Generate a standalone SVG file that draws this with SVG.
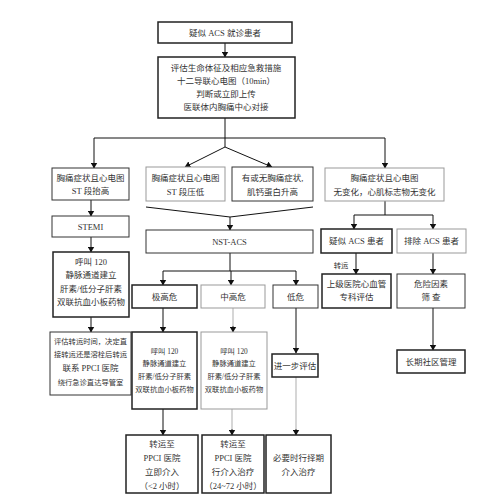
<svg xmlns="http://www.w3.org/2000/svg" width="500" height="504" viewBox="0 0 500 504">
<defs>
<marker id="ah" markerWidth="6" markerHeight="7" refX="5.5" refY="3.5" orient="auto" markerUnits="userSpaceOnUse">
<path d="M0,0 L6,3.5 L0,7 Z" fill="#111"/>
</marker>
</defs>
<style>
.b{fill:#fff;stroke:#333;stroke-width:1}
.bk{fill:#fff;stroke:#222;stroke-width:1.5}
.bg{fill:#fff;stroke:#999;stroke-width:1}
.t{font-family:"Liberation Serif","Noto Sans CJK SC",serif;font-size:8.5px;fill:#333;text-anchor:middle}
.s{font-size:7.3px}
.l{fill:none;stroke:#111;stroke-width:1}
.lg{fill:none;stroke:#bbb;stroke-width:1.2}
.a{marker-end:url(#ah)}
</style>
<rect width="500" height="504" fill="#fff"/>
<g id="connectors">
<path class="l a" d="M225,43 V57"/>
<path class="l" d="M225,118 V147"/>
<path class="l" d="M94,138 H385"/>
<path class="l a" d="M94,138 V168"/>
<path class="l a" d="M385,138 V168"/>
<path class="l a" d="M225,147 L185,167"/>
<path class="l a" d="M225,147 L272,167"/>
<path class="l a" d="M91,200 V216"/>
<path class="l a" d="M91,237 V252"/>
<path class="l a" d="M91,317 V332"/>
<path class="l" d="M146,207 L230,217 L313,207"/>
<path class="l a" d="M230,217 V230"/>
<path class="l" d="M230,253 V271"/>
<path class="l" d="M163,271 H296"/>
<path class="l a" d="M163,271 V285"/>
<path class="l a" d="M231,271 V285"/>
<path class="l a" d="M296,271 V285"/>
<path class="l a" d="M163,308 V332"/>
<path class="lg" d="M233,308 V326"/>
<path class="l a" d="M233,326 V332"/>
<path class="l a" d="M296,308 V353"/>
<path class="l a" d="M163,409 V435"/>
<path class="lg" d="M232,409 V429"/>
<path class="l a" d="M232,429 V435"/>
<path class="lg" d="M296,377 V429"/>
<path class="l a" d="M296,429 V435"/>
<path class="l" d="M385,201 V215"/>
<path class="l" d="M354,215 H433"/>
<path class="l a" d="M354,215 V229"/>
<path class="l a" d="M433,215 V229"/>
<path class="l a" d="M356,253 V274"/>
<path class="l a" d="M433,253 V274"/>
<path class="l a" d="M433,308 V350"/>
</g>
<g id="n1"><rect class="bk" x="158" y="22" width="134" height="21"/><text class="t" x="225" y="36">疑似 ACS 就诊患者</text></g>
<g id="n2"><rect class="bk" x="158" y="57" width="137" height="61"/>
<text class="t" x="226" y="71">评估生命体征及相应急救措施</text>
<text class="t" x="226" y="84">十二导联心电图（10min）</text>
<text class="t" x="226" y="97">判断或立即上传</text>
<text class="t" x="226" y="110">医联体内胸痛中心对接</text></g>
<g id="n3"><rect class="b" x="52" y="168" width="77" height="32"/>
<text class="t" x="90.5" y="181">胸痛症状且心电图</text><text class="t" x="90.5" y="194">ST 段抬高</text></g>
<g id="n4"><rect class="bg" x="146" y="167" width="79" height="34"/>
<text class="t" x="185.5" y="181">胸痛症状且心电图</text><text class="t" x="185.5" y="195">ST 段压低</text></g>
<g id="n5"><rect class="b" x="232" y="167" width="81" height="34"/>
<text class="t" x="272.5" y="181">有或无胸痛症状,</text><text class="t" x="272.5" y="195">肌钙蛋白升高</text></g>
<g id="n6"><rect class="bg" x="325" y="168" width="119" height="33"/>
<text class="t" x="384.5" y="181">胸痛症状且心电图</text><text class="t" x="384.5" y="195">无变化，心肌标志物无变化</text></g>
<g id="n7"><rect class="b" x="52" y="216" width="77" height="21"/><text class="t" x="90.5" y="230">STEMI</text></g>
<g id="n8"><rect class="bk" x="53" y="252" width="76" height="65"/>
<text class="t" x="91" y="265">呼叫 120</text>
<text class="t" x="91" y="278">静脉通道建立</text>
<text class="t" x="91" y="292">肝素/低分子肝素</text>
<text class="t" x="91" y="305">双联抗血小板药物</text></g>
<g id="n9"><rect class="b" x="146" y="230" width="167" height="23"/><text class="t" x="229.5" y="245">NST-ACS</text></g>
<g id="n10"><rect class="bk" x="132" y="285" width="65" height="23"/><text class="t" x="164.5" y="300">极高危</text></g>
<g id="n11"><rect class="bg" x="201" y="285" width="64" height="23"/><text class="t" x="233" y="300">中高危</text></g>
<g id="n12"><rect class="b" x="273" y="285" width="45" height="23"/><text class="t" x="295.5" y="300">低危</text></g>
<g id="n13"><rect class="b" x="50" y="332" width="81" height="63"/>
<text class="t s" x="90.5" y="344">评估转运时间，决定直</text>
<text class="t s" x="90.5" y="357">接转运还是溶栓后转运</text>
<text class="t" x="90.5" y="371">联系 PPCI 医院</text>
<text class="t s" x="90.5" y="385">绕行急诊直达导管室</text></g>
<g id="n14"><rect class="bk" x="132" y="332" width="65" height="77"/>
<text class="t s" x="164.5" y="354">呼叫 120</text>
<text class="t s" x="164.5" y="366">静脉通道建立</text>
<text class="t s" x="164.5" y="379">肝素/低分子肝素</text>
<text class="t s" x="164.5" y="392">双联抗血小板药物</text></g>
<g id="n15"><rect class="bg" x="201" y="332" width="66" height="77"/>
<text class="t s" x="234" y="354">呼叫 120</text>
<text class="t s" x="234" y="366">静脉通道建立</text>
<text class="t s" x="234" y="379">肝素/低分子肝素</text>
<text class="t s" x="234" y="392">双联抗血小板药物</text></g>
<g id="n16"><rect class="bk" x="272" y="354" width="46" height="23"/><text class="t" x="295" y="369">进一步评估</text></g>
<g id="n17"><rect class="bk" x="321" y="229" width="71" height="24"/><text class="t" x="356.5" y="244">疑似 ACS 患者</text></g>
<g id="n18"><rect class="bg" x="397" y="229" width="69" height="24"/><text class="t" x="431.5" y="244">排除 ACS 患者</text></g>
<text class="t s" x="341" y="268">转运</text>
<g id="n19"><rect class="bk" x="322" y="274" width="69" height="34"/>
<text class="t" x="356.5" y="287">上级医院心血管</text><text class="t" x="356.5" y="300">专科评估</text></g>
<g id="n20"><rect class="b" x="397" y="274" width="68" height="34"/>
<text class="t" x="431" y="287">危险因素</text><text class="t" x="431" y="300">筛  查</text></g>
<g id="n21"><rect class="bk" x="397" y="350" width="68" height="23"/><text class="t" x="431" y="365">长期社区管理</text></g>
<g id="n22"><rect class="bk" x="126" y="435" width="72" height="58"/>
<text class="t" x="162" y="447">转运至</text>
<text class="t" x="162" y="461">PPCI 医院</text>
<text class="t" x="162" y="475">立即介入</text>
<text class="t" x="162" y="489">（&lt;2 小时）</text></g>
<g id="n23"><rect class="bk" x="202" y="435" width="62" height="58"/>
<text class="t" x="233" y="447">转运至</text>
<text class="t" x="233" y="461">PPCI 医院</text>
<text class="t" x="233" y="475">行介入治疗</text>
<text class="t" x="233" y="489">（24~72 小时）</text></g>
<g id="n24"><rect class="bk" x="266" y="435" width="65" height="58"/>
<text class="t" x="298.5" y="461">必要时行择期</text>
<text class="t" x="298.5" y="475">介入治疗</text></g>
</svg>
